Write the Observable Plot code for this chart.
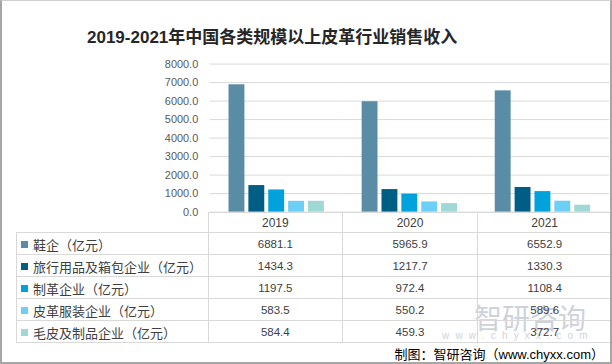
<!DOCTYPE html>
<html>
<head>
<meta charset="utf-8">
<script src="https://cdn.jsdelivr.net/npm/d3@7"></script>
<script src="https://cdn.jsdelivr.net/npm/@observablehq/plot@0.6"></script>
<style>
  html, body { margin: 0; padding: 0; background: #fff; }
  #frame { position: relative; width: 612px; height: 364px; box-sizing: border-box; border: 2px solid #a6a6a6; border-top: 1px solid #d0d0d0; overflow: hidden; background: #fff; }
  #chart { position: absolute; left: -2px; top: -1px; }
  .title { position: absolute; left: 85px; top: 22px; font: bold 17px "Liberation Sans", "Noto Sans CJK SC", sans-serif; color: #262626; white-space: nowrap; }
  .caption { position: absolute; right: 6px; top: 343px; font: 13px "Noto Sans CJK SC", sans-serif; color: #000; white-space: nowrap; }
  .caption .url { font-family: "Liberation Sans", sans-serif; }
  .line { position: absolute; background: #d9d9d9; }
  .cell { position: absolute; display: flex; align-items: center; white-space: nowrap; color: #404040; }
  .num { justify-content: center; font: 11.5px "Liberation Sans", sans-serif; }
  .lab { font: 13px "Noto Sans CJK SC", sans-serif; }
  .key { display: inline-block; width: 7px; height: 7px; margin-right: 5px; }
  .wm { position: absolute; color: #c3c9d3; white-space: nowrap; opacity: 0.8; }
</style>
</head>
<body>
<div id="frame">
  <div id="chart"></div>
  <div class="wm" style="left:472px; top:296px; font: 28px 'Noto Sans CJK SC', sans-serif;">智研咨询</div>
  <div class="wm" style="left:440px; top:329px; font: 10px 'Liberation Sans', sans-serif; letter-spacing: 6.2px;">www.chyxx.com</div>
  <div id="table"></div>
  <div class="title">2019-2021年中国各类规模以上皮革行业销售收入</div>
  <div class="caption">制图：智研咨询（<span class="url">www.chyxx.com</span>）</div>
</div>
<script>
// ---- data ----
const years = ["2019", "2020", "2021"];
const series = ["鞋企（亿元）", "旅行用品及箱包企业（亿元）", "制革企业（亿元）", "皮革服装企业（亿元）", "毛皮及制品企业（亿元）"];
const shoe = [6881.1, 5965.9, 6552.9];
const travel = [1434.3, 1217.7, 1330.3];
const tanning = [1197.5, 972.4, 1108.4];
const apparel = [583.5, 550.2, 589.6];
const fur = [584.4, 459.3, 372.7];
const colors = ["#5b8ca6", "#005e84", "#00a2dc", "#6dcff6", "#a0d8d6"];
const yTicks = [0, 1000, 2000, 3000, 4000, 5000, 6000, 7000, 8000];

const seriesValues = [shoe, travel, tanning, apparel, fur];
const data = years.flatMap((yr, i) => seriesValues.map((vals, j) => ({year: yr, series: series[j], value: vals[i]})));

const chart = Plot.plot({
  width: 614,
  height: 233,
  marginLeft: 210,
  marginRight: 0,
  marginTop: 64,
  marginBottom: 20,
  style: {fontFamily: "Liberation Sans, sans-serif", fontSize: "11px", color: "#595959", background: "transparent"},
  fx: {domain: years, padding: 0, axis: null},
  x: {domain: series, paddingInner: 0.2, paddingOuter: 0.87, axis: null},
  y: {domain: [0, 8000], ticks: yTicks, tickFormat: d3.format(".1f"), tickSize: 0, tickPadding: 12, label: null},
  color: {domain: series, range: colors},
  marks: [
    Plot.ruleY(yTicks, {stroke: "#d9d9d9", strokeWidth: 1}),
    Plot.barY(data, {fx: "year", x: "series", y: "value", fill: "series"})
  ]
});
document.getElementById("chart").appendChild(chart);

// ---- data table (frame coords are offset by border: left 2, top 1) ----
const ox = -2, oy = -1;
const colX = [16, 208, 342.67, 477.33, 612];
const rowY = [212, 232, 254, 276, 298, 320, 342];
const table = document.getElementById("table");
function add(cls, style, html) {
  const d = document.createElement("div");
  d.className = cls;
  Object.assign(d.style, style);
  if (html != null) d.innerHTML = html;
  table.appendChild(d);
  return d;
}
// horizontal lines
add("line", {left: (colX[1] + ox) + "px", top: (rowY[0] + oy) + "px", width: (colX[4] - colX[1]) + "px", height: "1px"});
for (let r = 1; r < rowY.length; r++) {
  add("line", {left: (colX[0] + ox) + "px", top: (rowY[r] + oy) + "px", width: (colX[4] - colX[0]) + "px", height: "1px"});
}
// vertical lines
add("line", {left: (colX[0] + ox) + "px", top: (rowY[1] + oy) + "px", width: "1px", height: (rowY[6] - rowY[1] + 1) + "px"});
for (let c = 1; c < colX.length; c++) {
  add("line", {left: (colX[c] + ox - 0.5) + "px", top: (rowY[0] + oy) + "px", width: "1px", height: (rowY[6] - rowY[0] + 1) + "px"});
}
// header
years.forEach((yr, i) => {
  add("cell num", {left: (colX[i + 1] + ox) + "px", top: (rowY[0] + oy + 1) + "px", width: (colX[i + 2] - colX[i + 1]) + "px", height: (rowY[1] - rowY[0]) + "px", fontSize: "12px"}, yr);
});
// rows
series.forEach((s, j) => {
  add("cell lab", {left: (colX[0] + ox + 5) + "px", top: (rowY[j + 1] + oy + 1) + "px", height: (rowY[j + 2] - rowY[j + 1]) + "px"},
    `<span class="key" style="background:${colors[j]}"></span>${s}`);
  years.forEach((yr, i) => {
    add("cell num", {left: (colX[i + 1] + ox) + "px", top: (rowY[j + 1] + oy + 1) + "px", width: (colX[i + 2] - colX[i + 1]) + "px", height: (rowY[j + 2] - rowY[j + 1]) + "px"},
      seriesValues[j][i].toFixed(1));
  });
});
</script>
</body>
</html>
